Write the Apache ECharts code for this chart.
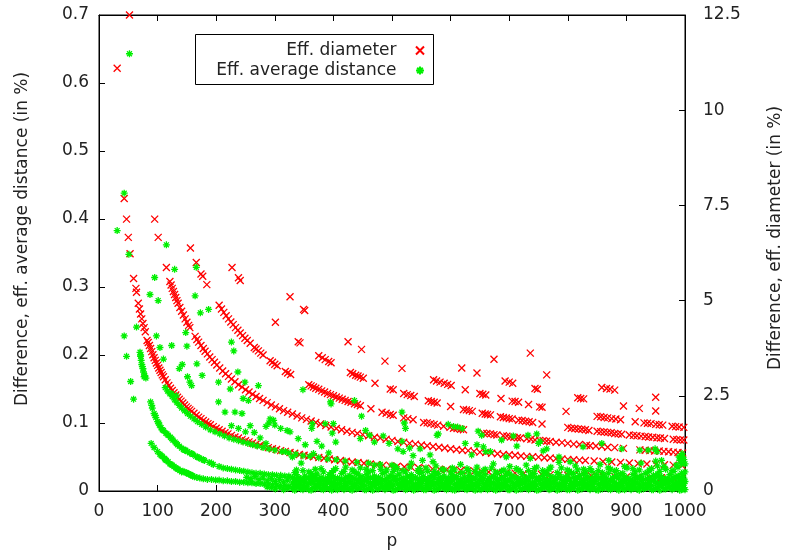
<!DOCTYPE html>
<html><head><meta charset="utf-8">
<script src="https://cdn.jsdelivr.net/npm/echarts/dist/echarts.min.js"></script>
<style>html,body{margin:0;padding:0;background:#fff}#c{width:792px;height:555px}</style>
</head><body><div id="c"></div>
<script>
// x axis: p ; left axis: eff. average distance (%) ; right axis: eff. diameter (%)
const xRange = [0, 1000];
const leftRange = [0, 0.7];
const rightRange = [0, 12.5];

// ---- Eff. diameter (right axis, %) ----
const redTop = [[31,11.1],[52,12.5],[43,7.68],[47,7.14],[50,6.66],[53,6.23],[59,5.58],[63,5.32],[64,5.22]];
const redK1 = [[67,4.93],[69,4.78],[71,4.65],[73,4.52],[75,4.4],[77,4.29],[79,4.18],[82,3.95],[84,3.9],[86,3.82],[88,3.74],[90,3.66],[92,3.58],[94,3.5],[96,3.43],[98,3.36],[100,3.3],[102,3.23],[104,3.17],[106,3.11],[108,3.05],[110,3.0],[113,2.92],[116,2.84],[119,2.77],[122,2.7],[125,2.64],[128,2.58],[131,2.52],[134,2.46],[137,2.41],[140,2.36],[143,2.31],[146,2.26],[149,2.21],[152,2.17],[155,2.13],[158,2.09],[162,2.04],[166,1.99],[170,1.94],[174,1.9],[178,1.85],[182,1.81],[186,1.77],[190,1.74],[195,1.69],[200,1.65],[205,1.61],[210,1.57],[215,1.53],[220,1.5],[226,1.46],[232,1.42],[238,1.39],[244,1.35],[250,1.32],[256,1.29],[262,1.26],[268,1.23],[275,1.2],[282,1.17],[289,1.14],[296,1.11],[303,1.09],[310,1.06],[318,1.04],[326,1.01],[334,0.99],[342,0.96],[350,0.94],[358,0.92],[366,0.9],[375,0.88],[384,0.86],[393,0.84],[402,0.82],[412,0.8],[422,0.78],[432,0.76],[442,0.75],[452,0.73],[463,0.71],[474,0.69],[485,0.68],[497,0.66],[509,0.65],[521,0.63],[533,0.62],[545,0.61],[557,0.6],[569,0.58],[581,0.57],[593,0.56],[605,0.55],[617,0.54],[629,0.53],[641,0.52],[653,0.51],[665,0.5],[680,0.49],[695,0.48],[710,0.47],[725,0.46],[740,0.45],[755,0.44],[770,0.43],[785,0.42],[800,0.415],[820,0.41],[840,0.4],[860,0.39],[880,0.38],[900,0.37],[920,0.36],[940,0.355],[960,0.35],[980,0.34],[995,0.335]];
const redK2 = [[95,7.14],[101,6.66],[115,5.87],[121,5.5],[123,5.41],[125,5.32],[127,5.24],[129,5.16],[131,5.08],[133,5.0],[135,4.93],[138,4.82],[141,4.72],[144,4.62],[147,4.52],[150,4.43],[153,4.35],[155,4.29],[164,4.06],[167,3.98],[170,3.91],[174,3.82],[178,3.74],[181,3.67],[185,3.6],[189,3.52],[193,3.45],[197,3.38],[201,3.31],[206,3.23],[211,3.15],[216,3.08],[221,3.01],[226,2.94],[232,2.87],[238,2.79],[244,2.73],[250,2.66],[256,2.6],[262,2.54],[268,2.48],[274,2.43],[280,2.38],[287,2.32],[294,2.26],[301,2.21],[308,2.16],[315,2.11],[322,2.07],[330,2.02],[338,1.97],[346,1.92],[354,1.88],[362,1.84],[370,1.8],[378,1.76],[387,1.72],[396,1.68],[405,1.64],[414,1.61],[423,1.57],[432,1.54],[441,1.51],[450,1.48],[460,1.45],[470,1.41],[480,1.39],[490,1.36],[500,1.33],[510,1.3],[520,1.28],[530,1.25],[540,1.23],[550,1.21],[560,1.19],[570,1.17],[580,1.15],[590,1.13],[600,1.11],[610,1.09],[620,1.07],[630,1.06],[640,1.04],[650,1.02],[660,1.01],[670,0.99],[680,0.98],[690,0.96],[700,0.95],[710,0.94],[720,0.92],[730,0.91],[740,0.9],[750,0.89],[760,0.875],[770,0.865],[780,0.85],[790,0.84],[800,0.83],[810,0.82],[820,0.81],[830,0.8],[845,0.79],[860,0.775],[875,0.76],[890,0.75],[905,0.735],[920,0.72],[935,0.71],[950,0.7],[965,0.69],[980,0.68],[995,0.67]];
const redK3 = [[156,6.38],[166,6.0],[174,5.7],[177,5.64],[184,5.42],[205,4.88],[209,4.78],[213,4.69],[217,4.6],[221,4.52],[225,4.44],[229,4.37],[233,4.29],[237,4.22],[241,4.15],[245,4.08],[249,4.01],[253,3.95],[258,3.88],[265,3.77],[268,3.73],[272,3.68],[276,3.62],[280,3.57],[292,3.42],[296,3.38],[300,3.33],[304,3.29],[318,3.14],[322,3.1],[327,3.06],[358,2.79],[362,2.76],[366,2.73],[370,2.7],[375,2.67],[380,2.63],[385,2.6],[390,2.56],[395,2.53],[400,2.5],[405,2.47],[410,2.44],[415,2.41],[420,2.38],[425,2.35],[430,2.33],[436,2.29],[441,2.27],[446,2.24],[464,2.16],[483,2.07],[490,2.04],[497,2.01],[502,1.99],[520,1.92],[527,1.9],[536,1.87],[554,1.8],[560,1.79],[566,1.77],[572,1.75],[578,1.73],[588,1.7],[599,1.67],[605,1.65],[611,1.64],[617,1.62],[622,1.61],[656,1.52],[662,1.51],[668,1.5],[674,1.48],[679,1.47],[690,1.45],[696,1.44],[702,1.42],[708,1.41],[714,1.4],[719,1.39],[730,1.37],[737,1.36],[744,1.34],[752,1.33],[758,1.32],[764,1.31],[770,1.3],[780,1.28],[790,1.27],[800,1.25],[810,1.23],[820,1.22],[832,1.2],[838,1.19],[848,1.18],[858,1.17],[868,1.15],[880,1.14],[895,1.12],[923,1.08],[932,1.07],[940,1.06],[948,1.05],[956,1.05],[964,1.04],[972,1.03],[980,1.02],[988,1.01],[996,1.0]];
const redK4 = [[227,5.87],[238,5.6],[241,5.53],[301,4.43],[340,3.92],[343,3.89],[375,3.55],[381,3.5],[386,3.45],[392,3.4],[396,3.37],[429,3.11],[433,3.08],[438,3.04],[442,3.02],[446,2.99],[451,2.96],[471,2.83],[497,2.68],[502,2.66],[520,2.56],[526,2.53],[532,2.51],[538,2.48],[562,2.37],[567,2.35],[572,2.33],[577,2.31],[600,2.22],[622,2.14],[627,2.13],[632,2.11],[637,2.09],[654,2.04],[659,2.02],[663,2.01],[668,2.0],[685,1.95],[690,1.93],[695,1.92],[700,1.9],[705,1.89],[716,1.86],[722,1.85],[728,1.83],[734,1.82],[740,1.8],[756,1.76],[800,1.67],[806,1.65],[812,1.64],[818,1.63],[824,1.62],[830,1.61],[836,1.59],[850,1.57],[856,1.56],[862,1.55],[868,1.54],[874,1.53],[880,1.51],[886,1.5],[892,1.49],[905,1.47],[912,1.46],[918,1.45],[925,1.44],[932,1.43],[938,1.42],[945,1.41],[952,1.4],[958,1.39],[965,1.38],[980,1.36],[986,1.35],[992,1.34],[998,1.34]];
const redK5 = [[326,5.1],[349,4.77],[351,4.74],[425,3.92],[448,3.72],[488,3.41],[517,3.22],[571,2.92],[576,2.89],[582,2.86],[589,2.83],[595,2.8],[601,2.77],[625,2.66],[650,2.56],[655,2.54],[660,2.52],[686,2.43],[705,2.36],[710,2.35],[716,2.33],[733,2.27],[752,2.21],[756,2.2],[797,2.09],[850,1.96],[856,1.95],[862,1.93],[868,1.92],[875,1.9],[882,1.89],[890,1.87],[915,1.82],[930,1.79],[936,1.78],[942,1.77],[950,1.75],[956,1.74],[962,1.73],[978,1.7],[984,1.69],[990,1.68],[998,1.67]];
const redK6 = [[619,3.23],[645,3.1],[693,2.89],[700,2.86],[706,2.83],[744,2.69],[748,2.67],[817,2.45],[822,2.43],[827,2.42],[895,2.23],[922,2.17],[950,2.1]];
const redK7 = [[674,3.46],[764,3.05],[858,2.72],[866,2.69],[872,2.68],[880,2.65],[950,2.46]];
const redK8 = [[736,3.62]];

// ---- Eff. average distance (left axis, %) ----
const greenTop = [[52,0.643],[43,0.438],[31,0.383],[51,0.348],[115,0.362],[129,0.326],[166,0.329],[95,0.314]];
const greenMid = [[43,0.228],[47,0.198],[54,0.161],[59,0.135],[64,0.241],[70,0.204],[71,0.198],[72,0.192],[73,0.186],[75,0.18],[76,0.175],[78,0.17],[80,0.166],[71,0.2],[74,0.183],[77,0.168],[87,0.289],[101,0.28],[98,0.228],[104,0.211],[110,0.194],[124,0.214],[124,0.143],[132,0.14],[137,0.18],[142,0.186],[148,0.233],[150,0.213],[151,0.168],[155,0.16],[158,0.155],[164,0.287],[167,0.187],[173,0.262],[176,0.17],[187,0.267],[204,0.131],[204,0.16],[215,0.116],[226,0.219],[230,0.206],[224,0.15],[237,0.175],[249,0.16],[246,0.136],[232,0.116],[244,0.114],[226,0.096],[238,0.092],[250,0.087],[255,0.133],[272,0.155],[298,0.104],[290,0.1],[285,0.095],[321,0.089],[348,0.149],[396,0.128],[395,0.131],[400,0.099],[436,0.133],[448,0.11],[446,0.077],[292,0.106],[300,0.097],[310,0.092],[326,0.087],[258,0.096],[265,0.086],[275,0.078],[285,0.07],[363,0.092],[386,0.099],[364,0.099],[398,0.085],[404,0.072],[372,0.073],[380,0.066],[392,0.056],[455,0.089],[462,0.082],[470,0.072],[485,0.081],[495,0.07],[510,0.062],[519,0.058],[340,0.077],[352,0.068],[366,0.055],[318,0.058],[330,0.05],[345,0.041],[517,0.116],[521,0.1],[523,0.092],[517,0.073],[530,0.063],[536,0.052],[548,0.062],[552,0.045],[565,0.053],[577,0.082],[579,0.084],[570,0.043],[596,0.098],[605,0.095],[612,0.094],[620,0.092],[625,0.07],[636,0.053],[645,0.068],[647,0.088],[653,0.082],[656,0.065],[660,0.058],[668,0.058],[687,0.075],[695,0.05],[707,0.081],[713,0.066],[736,0.048],[732,0.082],[747,0.084],[750,0.07],[758,0.059],[753,0.073],[764,0.062],[785,0.05],[804,0.043],[826,0.065],[858,0.07],[870,0.045],[892,0.062],[923,0.06],[937,0.06],[949,0.062],[952,0.058],[960,0.045],[990,0.05],[995,0.055]];
const greenBandA = [[113,0.152],[117,0.147],[121,0.143],[125,0.139],[129,0.134],[133,0.13],[137,0.126],[141,0.122],[146,0.118],[151,0.114],[156,0.11],[162,0.106],[168,0.102],[175,0.098],[182,0.094],[190,0.09],[198,0.087],[206,0.084],[214,0.081],[222,0.078],[230,0.076],[238,0.074],[246,0.072],[254,0.07],[262,0.068],[270,0.066],[280,0.064],[290,0.062],[300,0.06],[312,0.058],[324,0.056],[336,0.054],[348,0.052],[360,0.051],[375,0.049],[390,0.047],[405,0.046],[420,0.044],[440,0.042],[460,0.041],[480,0.039],[500,0.038]];
const greenBandB = [[88,0.131],[91,0.122],[94,0.114],[97,0.108],[100,0.102],[103,0.097],[106,0.093],[110,0.089],[114,0.085],[118,0.082],[122,0.079],[126,0.075],[130,0.072],[134,0.068],[137,0.066],[141,0.063],[144,0.061],[148,0.06],[151,0.058],[155,0.056],[160,0.054],[165,0.051],[170,0.049],[175,0.047],[180,0.045],[188,0.042],[195,0.039],[90,0.126],[96,0.111],[102,0.1],[108,0.09],[116,0.084],[124,0.077],[132,0.07],[146,0.06],[158,0.055],[168,0.05],[178,0.046],[192,0.041]];
const greenBandC = [[89,0.07],[94,0.064],[100,0.058],[104,0.054],[108,0.051],[112,0.048],[115,0.045],[118,0.043],[121,0.04],[125,0.038],[128,0.036],[131,0.034],[135,0.032],[138,0.03],[141,0.028],[145,0.028],[149,0.027],[153,0.025],[156,0.024],[160,0.022],[163,0.021],[167,0.02],[172,0.019],[178,0.018],[185,0.017],[192,0.017],[199,0.016],[106,0.052],[113,0.046],[123,0.039],[133,0.033],[143,0.029],[151,0.026],[158,0.023]];
const greenFloor = [[205,0.036,0.016],[212,0.034,0.015],[219,0.033,0.015],[226,0.032,0.014],[233,0.031,0.014],[240,0.03,0.013],[247,0.029,0.013],[254,0.028,0.012],[261,0.027,0.012],[268,0.026,0.011],[275,0.026,0.011],[282,0.025,0.01],[289,0.024,0.01],[296,0.024,0.009],[303,0.023,0.009],[310,0.023,0.008],[317,0.022,0.008],[324,0.022,0.007],
[330,0.004,0.012,0.02],[337,0.007,0.015,0.024,0.031],[344,0.003,0.01,0.018],[351,0.006,0.013,0.022],[358,0.002,0.011,0.019,0.028],[365,0.005,0.014,0.023],[372,0.008,0.016,0.025],[379,0.003,0.012,0.02,0.033],[386,0.006,0.01,0.018],[393,0.004,0.015,0.024],[400,0.007,0.013,0.021,0.03],[407,0.002,0.011,0.019],[414,0.005,0.016,0.026],[421,0.008,0.012,0.02,0.035],[428,0.003,0.014,0.023],[435,0.006,0.01,0.018,0.029],[442,0.004,0.015,0.025],[449,0.007,0.012,0.021],[456,0.002,0.016,0.024,0.032],[463,0.005,0.011,0.019],[470,0.008,0.014,0.022,0.038],[477,0.003,0.012,0.02],[484,0.006,0.015,0.026],[491,0.004,0.01,0.018,0.031],[498,0.007,0.013,0.023],[505,0.002,0.016,0.021,0.036],[512,0.005,0.011,0.025],[519,0.008,0.014,0.019,0.03],[526,0.003,0.012,0.022],[533,0.006,0.015,0.024,0.041],[540,0.004,0.01,0.02],[547,0.007,0.013,0.026,0.033],[554,0.002,0.016,0.021],[561,0.005,0.011,0.018,0.029],[568,0.008,0.014,0.023],[575,0.003,0.012,0.025,0.037],[582,0.006,0.015,0.02],[589,0.004,0.01,0.022,0.031],[596,0.007,0.013,0.019],[603,0.002,0.016,0.024,0.034],[610,0.005,0.011,0.021],[617,0.008,0.014,0.026,0.039],[624,0.003,0.012,0.02],[631,0.006,0.015,0.023,0.03],[638,0.004,0.01,0.018],[645,0.007,0.013,0.025,0.035],[652,0.002,0.016,0.021],[659,0.005,0.011,0.024,0.032],[666,0.008,0.014,0.019],[673,0.003,0.012,0.022,0.04],[680,0.006,0.015,0.026],[687,0.004,0.01,0.02,0.029],[694,0.007,0.013,0.023],[701,0.002,0.016,0.025,0.036],[708,0.005,0.011,0.021],[715,0.008,0.014,0.018,0.031],[722,0.003,0.012,0.024],[729,0.006,0.015,0.02,0.038],[736,0.004,0.01,0.022],[743,0.007,0.013,0.026,0.033],[750,0.002,0.016,0.019],[757,0.005,0.011,0.023,0.03],[764,0.008,0.014,0.025],[771,0.003,0.012,0.021,0.035],[778,0.006,0.015,0.018],[785,0.004,0.01,0.024,0.042],[792,0.007,0.013,0.02],[799,0.002,0.016,0.022,0.031],[806,0.005,0.011,0.026],[813,0.008,0.014,0.019,0.037],[820,0.003,0.012,0.023],[827,0.006,0.015,0.025,0.032],[834,0.004,0.01,0.021],[841,0.007,0.013,0.018,0.029],[848,0.002,0.016,0.024],[855,0.005,0.011,0.02,0.039],[862,0.008,0.014,0.022],[869,0.003,0.012,0.026,0.034],[876,0.006,0.015,0.019],[883,0.004,0.01,0.023,0.03],[890,0.007,0.013,0.025],[897,0.002,0.016,0.021,0.036],[904,0.005,0.011,0.018],[911,0.008,0.014,0.024,0.033],[918,0.003,0.012,0.02],[925,0.006,0.015,0.022,0.041],[932,0.004,0.01,0.026],[939,0.007,0.013,0.019,0.031],[946,0.002,0.016,0.023],[953,0.005,0.011,0.025,0.037],[960,0.008,0.014,0.021],[967,0.003,0.012,0.018,0.032],[974,0.006,0.015,0.024],[981,0.004,0.01,0.02,0.029],[988,0.007,0.013,0.022,0.035],[994,0.002,0.016,0.026,0.04],[998,0.005,0.011,0.019,0.046]];
const greenFloorB = [[252,0.02],[259,0.018],[266,0.021],[273,0.017],[280,0.019],[287,0.006,0.015],[294,0.005,0.018],[301,0.003,0.014],[308,0.006,0.017],[315,0.002,0.013],[322,0.004,0.016],
[334,0.001,0.009,0.017,0.027],[341,0.005,0.012,0.02],[348,0.002,0.008,0.016,0.03],[355,0.004,0.01,0.019],[362,0.001,0.012,0.018,0.026],[369,0.003,0.009,0.02,0.032],[376,0.005,0.011,0.017],[383,0.002,0.008,0.016,0.028],[390,0.004,0.012,0.019],[397,0.001,0.01,0.02,0.027],[404,0.003,0.009,0.017,0.033],[411,0.005,0.011,0.018],[418,0.002,0.008,0.016,0.029],[425,0.004,0.012,0.02],[432,0.001,0.009,0.019,0.031],[439,0.003,0.01,0.017,0.026],[446,0.005,0.011,0.018,0.034],[453,0.002,0.008,0.016],[460,0.004,0.012,0.02,0.028],[467,0.001,0.009,0.019,0.03],[474,0.003,0.01,0.017],[481,0.005,0.011,0.018,0.032],[488,0.002,0.008,0.016,0.027],[495,0.004,0.012,0.02],[502,0.001,0.009,0.019,0.029],[509,0.003,0.01,0.017,0.033],[516,0.005,0.011,0.018],[523,0.002,0.008,0.016,0.028],[530,0.004,0.012,0.02,0.035],[537,0.001,0.009,0.019],[544,0.003,0.01,0.017,0.03],[551,0.005,0.011,0.018,0.027],[558,0.002,0.008,0.016,0.034],[565,0.004,0.012,0.02],[572,0.001,0.009,0.019,0.029],[579,0.003,0.01,0.017,0.026],[586,0.005,0.011,0.018,0.032],[593,0.002,0.008,0.016],[600,0.004,0.012,0.02,0.028],[607,0.001,0.009,0.019,0.031],[614,0.003,0.01,0.017],[621,0.005,0.011,0.018,0.027],[628,0.002,0.008,0.016,0.033],[635,0.004,0.012,0.02],[642,0.001,0.009,0.019,0.029],[649,0.003,0.01,0.017,0.026],[656,0.005,0.011,0.018,0.03],[663,0.002,0.008,0.016],[670,0.004,0.012,0.02,0.034],[677,0.001,0.009,0.019,0.028],[684,0.003,0.01,0.017],[691,0.005,0.011,0.018,0.031],[698,0.002,0.008,0.016,0.027],[705,0.004,0.012,0.02],[712,0.001,0.009,0.019,0.033],[719,0.003,0.01,0.017,0.029],[726,0.005,0.011,0.018],[733,0.002,0.008,0.016,0.03],[740,0.004,0.012,0.02,0.026],[747,0.001,0.009,0.019,0.035],[754,0.003,0.01,0.017],[761,0.005,0.011,0.018,0.028],[768,0.002,0.008,0.016,0.032],[775,0.004,0.012,0.02],[782,0.001,0.009,0.019,0.027],[789,0.003,0.01,0.017,0.034],[796,0.005,0.011,0.018],[803,0.002,0.008,0.016,0.029],[810,0.004,0.012,0.02,0.026],[817,0.001,0.009,0.019,0.031],[824,0.003,0.01,0.017],[831,0.005,0.011,0.018,0.028],[838,0.002,0.008,0.016,0.033],[845,0.004,0.012,0.02],[852,0.001,0.009,0.019,0.03],[859,0.003,0.01,0.017,0.027],[866,0.005,0.011,0.018],[873,0.002,0.008,0.016,0.032],[880,0.004,0.012,0.02,0.029],[887,0.001,0.009,0.019],[894,0.003,0.01,0.017,0.026],[901,0.005,0.011,0.018,0.034],[908,0.002,0.008,0.016],[915,0.004,0.012,0.02,0.028],[922,0.001,0.009,0.019,0.031],[929,0.003,0.01,0.017],[936,0.005,0.011,0.018,0.027],[943,0.002,0.008,0.016,0.033],[950,0.004,0.012,0.02,0.044],[957,0.001,0.009,0.019,0.029],[964,0.003,0.01,0.017,0.036],[971,0.005,0.011,0.018],[978,0.002,0.008,0.016,0.03],[985,0.004,0.012,0.02,0.038],[991,0.001,0.009,0.019,0.045],[996,0.003,0.01,0.024,0.05],[1000,0.002,0.014,0.028,0.04]];

const seriesNames = ['Eff. diameter', 'Eff. average distance'];
const axisTitles = { x: 'p', left: 'Difference, eff. average distance (in %)', right: 'Difference, eff. diameter (in %)' };

const rowsToPoints = rows => rows.flatMap(r => r.slice(1).map(v => [r[0], v]));
const redData = [].concat(redTop, redK1, redK2, redK3, redK4, redK5, redK6, redK7, redK8);
const greenData = [].concat(greenTop, greenMid, greenBandA, greenBandB, greenBandC,
  rowsToPoints(greenFloor), rowsToPoints(greenFloorB));

const FONT = 'DejaVu Sans';
const TXT = '#222';
const crossPath = 'path://M0,0L10,10M10,0L0,10';
const starPath = 'path://M5,0L5,10M0,5L10,5M1.5,1.5L8.5,8.5M8.5,1.5L1.5,8.5';

const chart = echarts.init(document.getElementById('c'), null, {renderer: 'canvas'});
const tick = {show: true, inside: true, length: 6, lineStyle: {color: '#000', width: 1}};
const plainNum = v => String(v);
chart.setOption({
  animation: false,
  backgroundColor: '#fff',
  grid: {left: 99, right: 107, top: 15, bottom: 62, show: true, borderColor: '#000', borderWidth: 1, backgroundColor: 'transparent'},
  xAxis: [
    {type: 'value', min: xRange[0], max: xRange[1], interval: 100, position: 'bottom',
     name: axisTitles.x, nameLocation: 'middle', nameGap: 42,
     nameTextStyle: {fontFamily: FONT, fontSize: 17, color: TXT},
     axisLine: {show: true, onZero: false, lineStyle: {color: '#000'}}, axisTick: tick,
     axisLabel: {fontFamily: FONT, fontSize: 17, color: TXT, margin: 12, formatter: plainNum},
     splitLine: {show: false}},
    {type: 'value', min: xRange[0], max: xRange[1], interval: 100, position: 'top',
     axisLine: {show: true, onZero: false, lineStyle: {color: '#000'}}, axisTick: tick,
     axisLabel: {show: false}, splitLine: {show: false}}
  ],
  yAxis: [
    {type: 'value', min: leftRange[0], max: leftRange[1], interval: 0.1, position: 'left',
     name: axisTitles.left, nameLocation: 'middle', nameGap: 68, nameRotate: 90,
     nameTextStyle: {fontFamily: FONT, fontSize: 17, color: TXT, padding: [0, 0, 0, 28]},
     axisLine: {show: true, onZero: false, lineStyle: {color: '#000'}}, axisTick: tick,
     axisLabel: {fontFamily: FONT, fontSize: 17, color: TXT, margin: 10},
     splitLine: {show: false}},
    {type: 'value', min: rightRange[0], max: rightRange[1], interval: 2.5, position: 'right',
     name: axisTitles.right, nameLocation: 'middle', nameGap: 82, nameRotate: 90,
     nameTextStyle: {fontFamily: FONT, fontSize: 17, color: TXT, padding: [0, 0, 0, 30]},
     axisLine: {show: true, onZero: false, lineStyle: {color: '#000'}}, axisTick: tick,
     axisLabel: {fontFamily: FONT, fontSize: 17, color: TXT, margin: 18},
     splitLine: {show: false}}
  ],
  legend: [
    {data: [seriesNames[0]], right: 367, top: 42, orient: 'vertical', align: 'right', padding: 0,
     itemWidth: 37, itemHeight: 8, itemGap: 0, selectedMode: false,
     textStyle: {fontFamily: FONT, fontSize: 17, color: TXT}},
    {data: [seriesNames[1]], right: 367, top: 62, orient: 'vertical', align: 'right', padding: 0,
     itemWidth: 37, itemHeight: 8, itemGap: 0, selectedMode: false,
     textStyle: {fontFamily: FONT, fontSize: 17, color: TXT}}
  ],
  graphic: [
    {type: 'rect', left: 195, top: 34, z: -1, shape: {width: 238, height: 50},
     style: {fill: '#fff', stroke: '#000', lineWidth: 1}}
  ],
  series: [
    {name: seriesNames[0], type: 'scatter', xAxisIndex: 0, yAxisIndex: 1, data: redData,
     symbol: crossPath, symbolSize: 7, symbolKeepAspect: true, large: false, progressive: 0,
     itemStyle: {color: 'rgba(0,0,0,0)', borderColor: '#ff0000', borderWidth: 1.3, opacity: 1},
     emphasis: {disabled: true}},
    {name: seriesNames[1], type: 'scatter', xAxisIndex: 0, yAxisIndex: 0, data: greenData,
     symbol: starPath, symbolSize: 7, symbolKeepAspect: true, large: false, progressive: 0,
     itemStyle: {color: 'rgba(0,0,0,0)', borderColor: '#00f000', borderWidth: 1.3, opacity: 1},
     emphasis: {disabled: true}}
  ]
});
</script>
</body></html>
